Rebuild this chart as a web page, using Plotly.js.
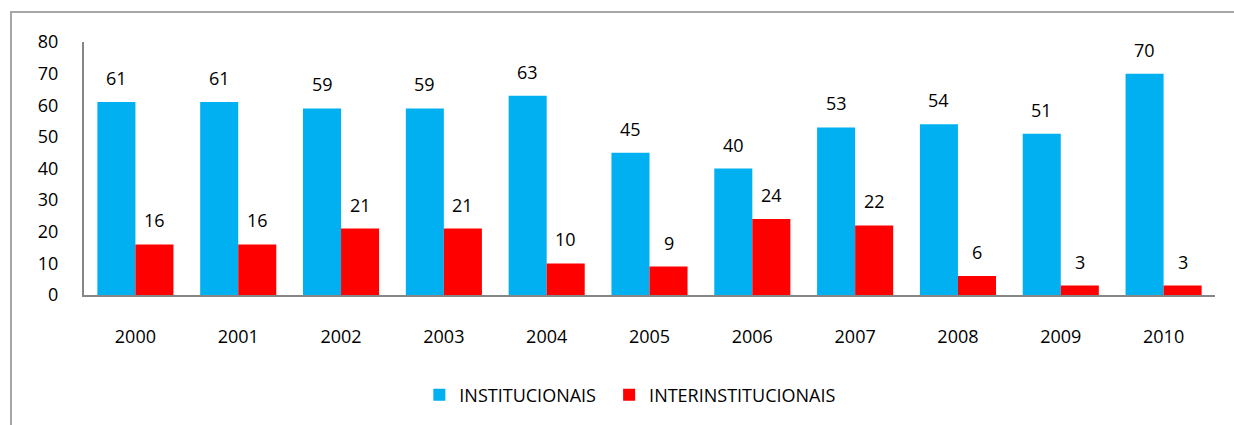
<!DOCTYPE html>
<html>
<head>
<meta charset="utf-8">
<script src="https://cdn.plot.ly/plotly-3.0.1.min.js"></script>
<style>
  html, body { margin: 0; padding: 0; background: #fff; overflow: hidden; }
  #wrap { position: relative; width: 1234px; height: 425px; }
  #chart { position: absolute; left: 0; top: 0; width: 1234px; height: 425px; }
  #frame { position: absolute; left: 10px; top: 11px; width: 2000px; height: 1000px;
           border-left: 2px solid #a6a6a6; border-top: 2px solid #a6a6a6; pointer-events: none; }
</style>
</head>
<body>
<div id="wrap">
  <div id="chart"></div>
  <div id="frame"></div>
</div>
<script>
const years = ["2000","2001","2002","2003","2004","2005","2006","2007","2008","2009","2010"];
const institucionais = [61, 61, 59, 59, 63, 45, 40, 53, 54, 51, 70];
const interinstitucionais = [16, 16, 21, 21, 10, 9, 24, 22, 6, 3, 3];
const seriesNames = ["INSTITUCIONAIS", "INTERINSTITUCIONAIS"];
const yTicks = [0, 10, 20, 30, 40, 50, 60, 70, 80];

const FONT = "Open Sans, Noto Sans, sans-serif";
const fontSize = 18;

const traces = [
  { type: "bar", name: seriesNames[0], x: years, y: institucionais,
    marker: { color: "#00B0F0" }, hoverinfo: "y", legend: "legend" },
  { type: "bar", name: seriesNames[1], x: years, y: interinstitucionais,
    marker: { color: "#FF0000" }, hoverinfo: "y", legend: "legend2" }
];

const annotations = [];
const half = 19;
years.forEach((yr, i) => {
  annotations.push({ x: i, y: institucionais[i], xref: "x", yref: "y",
    text: String(institucionais[i]), showarrow: false, xshift: -half, yshift: 24,
    yanchor: "middle", font: { family: FONT, size: fontSize, color: "#000" } });
  annotations.push({ x: i, y: interinstitucionais[i], xref: "x", yref: "y",
    text: String(interinstitucionais[i]), showarrow: false, xshift: half, yshift: 24,
    yanchor: "middle", font: { family: FONT, size: fontSize, color: "#000" } });
});

const legendFont = { family: FONT, size: fontSize, color: "#000" };

const layout = {
  width: 1234, height: 425,
  margin: { l: 84, r: 19, t: 42, b: 130 },
  paper_bgcolor: "rgba(0,0,0,0)", plot_bgcolor: "rgba(0,0,0,0)",
  font: { family: FONT, size: fontSize, color: "#000" },
  barmode: "group", bargap: 0.26, bargroupgap: 0,
  showlegend: true,
  legend: { orientation: "h", x: 0.2965, xanchor: "left", y: -0.395, yanchor: "middle",
            font: legendFont, itemwidth: 30, bgcolor: "rgba(0,0,0,0)" },
  legend2: { orientation: "h", x: 0.4643, xanchor: "left", y: -0.395, yanchor: "middle",
            font: legendFont, itemwidth: 30, bgcolor: "rgba(0,0,0,0)" },
  xaxis: { type: "category", range: [-0.5, years.length - 0.5], autorange: false,
           showline: true, linecolor: "#868686", linewidth: 2,
           ticks: "", showgrid: false, zeroline: false, ticklabelstandoff: 24,
           tickfont: { family: FONT, size: fontSize, color: "#000" } },
  yaxis: { range: [0, 80], autorange: false, tickvals: yTicks, showline: true, linecolor: "#868686", linewidth: 2,
           ticks: "", showgrid: false, zeroline: false, ticklabelstandoff: 20,
           tickfont: { family: FONT, size: fontSize, color: "#000" } },
  annotations: annotations
};

Plotly.newPlot("chart", traces, layout, { displayModeBar: false, staticPlot: true });
</script>
</body>
</html>
